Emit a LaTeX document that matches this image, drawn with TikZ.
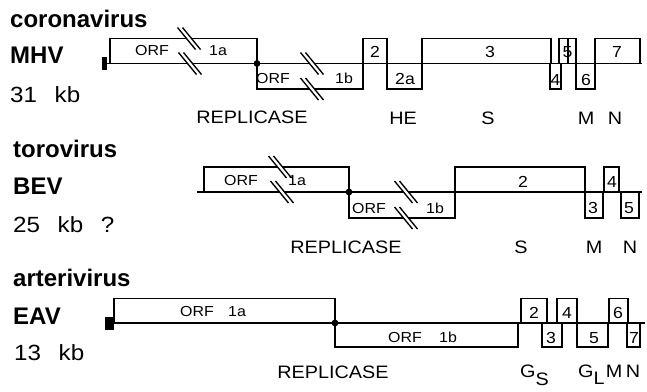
\documentclass[tikz,border=0pt]{standalone}
\usepackage{fontspec}
\setmainfont{Liberation Sans}
\newfontfamily\lab[FakeStretch=1.1]{Liberation Sans}
\tikzset{
  gl/.style={line width=1.35pt},
  t/.style={inner sep=0, anchor=base},
  orf/.style={t, font=\lab\fontsize{14.5}{14.5}\selectfont},
  num/.style={t, font=\lab\fontsize{16}{16}\selectfont},
  und/.style={t, font=\lab\fontsize{18}{18}\selectfont},
  vir/.style={inner sep=0, anchor=base west, font=\bfseries\fontsize{24}{24}\selectfont},
  kb/.style={inner sep=0, anchor=base west, font=\lab\fontsize{22}{22}\selectfont},
}
\newcommand\brk[2]{%
  \fill[white] ({#1-11.5},{#2-11}) -- ({#1-6.5},{#2-11}) -- ({#1+11.5},{#2+11}) -- ({#1+6.5},{#2+11}) -- cycle;
  \draw[gl] ({#1-11.5},{#2-11}) -- ({#1+6.5},{#2+11});
  \draw[gl] ({#1-6.5},{#2-11}) -- ({#1+11.5},{#2+11});
}
\begin{document}
\begin{tikzpicture}[x=1pt,y=-1pt]
\useasboundingbox[fill=white] (0,0) rectangle (647,391);

% ---------------- MHV ----------------
\node[vir] (cor) at (10,27) {coronavirus};
\node[vir] (mhv) at (10,63) {MHV};
\node[kb] (mhvkb) at (10,102) {31\hspace{0.8em}kb};
\fill (102,57) rectangle (106.5,70);
\draw[gl] (110,38.5) rectangle (257,63.5);
\draw[gl] (257,63.5) rectangle (363,89);
\draw[gl] (363,38.5) rectangle (387,63.5);
\draw[gl] (387,63.5) rectangle (422,89);
\draw[gl] (422,38.5) rectangle (551,63.5);
\draw[gl] (550,63.5) rectangle (561,89);
\draw[gl] (559,38.5) rectangle (576,63.5);
\draw[gl] (568,38.5) -- (568,63.5);
\draw[gl] (576,63.5) rectangle (595,89);
\draw[gl] (595,38.5) rectangle (640,63.5);
\draw[gl] (104,63.5) -- (642,63.5);
\brk{189}{38.5}\brk{190}{63.5}
\brk{312}{63.5}\brk{312}{89}
\fill (257,63.5) circle (3.4pt);
\node[orf] (m1) at (152,55) {ORF};
\node[orf] (m2) at (218,55) {1a};
\node[orf] (m3) at (273,83) {ORF};
\node[orf] (m4) at (344,83) {1b};
\node[num] (m5) at (375,57) {2};
\node[num] (m6) at (405,84) {2a};
\node[num] (m7) at (490,57) {3};
\node[num] (m8) at (555.5,85) {4};
\node[num] (m9) at (567.5,57) {5};
\node[num] (m10) at (586,85) {6};
\node[num] (m11) at (617,57) {7};
\node[und] (m12) at (252,123) {REPLICASE};
\node[und] (m13) at (403,124) {HE};
\node[und] (m14) at (488,124) {S};
\node[und] (m15) at (586,124) {M};
\node[und] (m16) at (615,124) {N};

% ---------------- BEV ----------------
\node[vir] (tor) at (13,157) {torovirus};
\node[vir] (bev) at (13,194) {BEV};
\node[kb] (bevkb) at (13,232) {25\hspace{0.8em}kb\hspace{0.8em}?};
\draw[gl] (204,167) rectangle (349,192);
\draw[gl] (349,192) rectangle (455,218);
\draw[gl] (455,167) rectangle (585,192);
\draw[gl] (585,192) rectangle (603,218);
\draw[gl] (604,167) rectangle (619,192);
\draw[gl] (621,192) rectangle (639,218);
\draw[gl] (197,192) -- (642,192);
\brk{280}{167}\brk{282}{192}
\brk{406}{192}\brk{406}{218}
\fill (349,192) circle (3.4pt);
\node[orf] (b1) at (241,185) {ORF};
\node[orf] (b2) at (297,185) {1a};
\node[orf] (b3) at (369,213) {ORF};
\node[orf] (b4) at (435,213) {1b};
\node[num] (b5) at (523,187) {2};
\node[num] (b6) at (593,213) {3};
\node[num] (b7) at (612,187) {4};
\node[num] (b8) at (629,213) {5};
\node[und] (b9) at (346,253) {REPLICASE};
\node[und] (b10) at (521,253) {S};
\node[und] (b11) at (594,253) {M};
\node[und] (b12) at (630,253) {N};

% ---------------- EAV ----------------
\node[vir] (art) at (13,286) {arterivirus};
\node[vir] (eav) at (13,324) {EAV};
\node[kb] (eavkb) at (14,360) {13\hspace{0.8em}kb};
\fill (105,317) rectangle (114,330);
\draw[gl] (114,298.5) rectangle (335,323);
\draw[gl] (335,323) rectangle (518,347);
\draw[gl] (521,298.5) rectangle (547,323);
\draw[gl] (542,323) rectangle (562,347);
\draw[gl] (557,298.5) rectangle (577,323);
\draw[gl] (577,323) rectangle (608,347);
\draw[gl] (609,298.5) rectangle (628,323);
\draw[gl] (627,323) rectangle (640,347);
\draw[gl] (114,323) -- (645,323);
\fill (335,323) circle (3.4pt);
\node[orf] (e1) at (197,316) {ORF};
\node[orf] (e2) at (237,316) {1a};
\node[orf] (e3) at (405,342) {ORF};
\node[orf] (e4) at (448,342) {1b};
\node[num] (e5) at (534,318) {2};
\node[num] (e6) at (551,343) {3};
\node[num] (e7) at (567,318) {4};
\node[num] (e8) at (594,343) {5};
\node[num] (e9) at (618,318) {6};
\node[num] (e10) at (634,343) {7};
\node[und] (e11) at (333,378) {REPLICASE};
\node[und, anchor=base west] (e12) at (520,377) {G\raisebox{-8pt}{S}};
\node[und, anchor=base west] (e13) at (578,377) {G\raisebox{-7pt}{L}};
\node[und] (e14) at (614,377) {M};
\node[und] (e15) at (633,377) {N};
\end{tikzpicture}
\end{document}
